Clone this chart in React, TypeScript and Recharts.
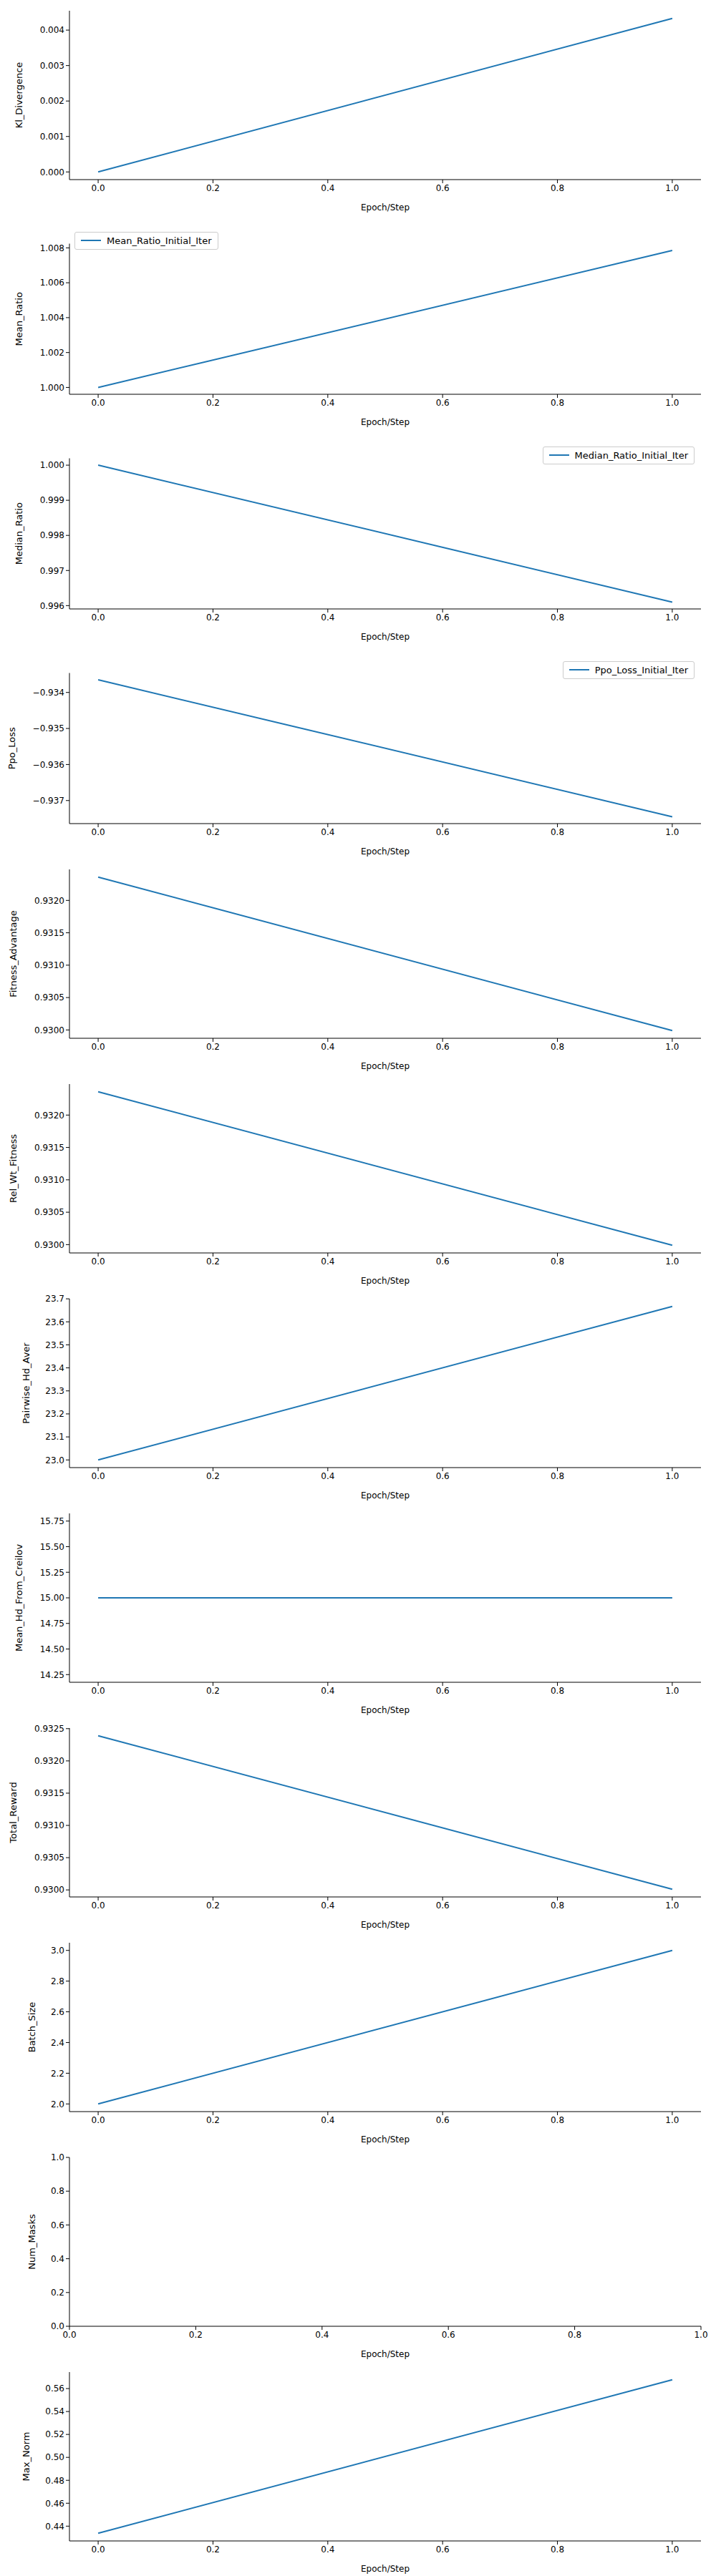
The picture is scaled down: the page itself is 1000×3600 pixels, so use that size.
import React from 'react'
import { LineChart, Line, XAxis, YAxis, Legend } from 'recharts'

const steps = [0, 1]

const klDivergence = [0.0, 0.00433]
const meanRatio = [1.0, 1.00785]
const medianRatio = [1.0, 0.9961]
const ppoLoss = [-0.93365, -0.93745]
const fitnessAdvantage = [0.93236, 0.92999]
const relWtFitness = [0.93236, 0.92999]
const pairwiseHdAver = [23.0, 23.667]
const meanHdFromCreilov = [15.0, 15.0]
const totalReward = [0.93239, 0.93001]
const batchSize = [2.0, 3.0]
const numMasks: number[] = []
const maxNorm = [0.4338, 0.5677]

const xTicks = [0, 0.2, 0.4, 0.6, 0.8, 1.0]

interface Panel {
    label: string
    values: number[]
    ticks: number[]
    digits: number
    labelX: number
    legend?: string
    legendSide?: 'left' | 'right'
    domain?: [number, number]
}

const panels: Panel[] = [
    { label: 'Kl_Divergence', values: klDivergence, ticks: [0, 0.001, 0.002, 0.003, 0.004], digits: 3, labelX: 32 },
    { label: 'Mean_Ratio', values: meanRatio, ticks: [1.0, 1.002, 1.004, 1.006, 1.008], digits: 3, labelX: 32, legend: 'Mean_Ratio_Initial_Iter', legendSide: 'left' },
    { label: 'Median_Ratio', values: medianRatio, ticks: [0.996, 0.997, 0.998, 0.999, 1.0], digits: 3, labelX: 32, legend: 'Median_Ratio_Initial_Iter', legendSide: 'right' },
    { label: 'Ppo_Loss', values: ppoLoss, ticks: [-0.937, -0.936, -0.935, -0.934], digits: 3, labelX: 22, legend: 'Ppo_Loss_Initial_Iter', legendSide: 'right' },
    { label: 'Fitness_Advantage', values: fitnessAdvantage, ticks: [0.93, 0.9305, 0.931, 0.9315, 0.932], digits: 4, labelX: 24 },
    { label: 'Rel_Wt_Fitness', values: relWtFitness, ticks: [0.93, 0.9305, 0.931, 0.9315, 0.932], digits: 4, labelX: 24 },
    { label: 'Pairwise_Hd_Aver', values: pairwiseHdAver, ticks: [23.0, 23.1, 23.2, 23.3, 23.4, 23.5, 23.6, 23.7], digits: 1, labelX: 42 },
    { label: 'Mean_Hd_From_Creilov', values: meanHdFromCreilov, ticks: [14.25, 14.5, 14.75, 15.0, 15.25, 15.5, 15.75], digits: 2, labelX: 32, domain: [14.175, 15.825] },
    { label: 'Total_Reward', values: totalReward, ticks: [0.93, 0.9305, 0.931, 0.9315, 0.932, 0.9325], digits: 4, labelX: 24 },
    { label: 'Batch_Size', values: batchSize, ticks: [2.0, 2.2, 2.4, 2.6, 2.8, 3.0], digits: 1, labelX: 50 },
    { label: 'Num_Masks', values: numMasks, ticks: [0, 0.2, 0.4, 0.6, 0.8, 1.0], digits: 1, labelX: 50, domain: [0, 1] },
    { label: 'Max_Norm', values: maxNorm, ticks: [0.44, 0.46, 0.48, 0.5, 0.52, 0.54, 0.56], digits: 2, labelX: 42 },
]

const FONT = '"DejaVu Sans", sans-serif'
const tickStyle = { fontSize: 12, fill: '#000', fontFamily: FONT }

const fmt = (d: number) => (v: number) => v.toFixed(d).replace('-', '\u2212')

function padDomain(values: number[]): [number, number] {
    const lo = Math.min(...values)
    const hi = Math.max(...values)
    const pad = (hi - lo) * 0.05
    return [lo - pad, hi + pad]
}

function LegendBox({ text }: { text: string }) {
    return (
        <div style={{
            display: 'inline-flex', alignItems: 'center', gap: 8, background: '#fff',
            border: '1px solid #ccc', borderRadius: 3, padding: '4px 8px', fontFamily: FONT, fontSize: 13,
        }}>
            <span style={{ display: 'inline-block', width: 28, height: 2, background: '#1f77b4' }} />
            {text}
        </div>
    )
}

function MetricPanel({ p }: { p: Panel }) {
    const data = steps.map((s, i) => ({ step: s, value: p.values[i] })).filter((d) => d.value !== undefined)
    const empty = p.values.length === 0
    const domain = p.domain ?? padDomain(p.values)
    return (
        <LineChart width={1000} height={300} data={empty ? [] : data}
            margin={{ top: 15, right: 21, bottom: 0, left: 0 }}>
            <XAxis dataKey="step" type="number" domain={empty ? [0, 1] : [-0.05, 1.05]} ticks={xTicks}
                tickFormatter={fmt(1)} tick={tickStyle} stroke="#000" tickSize={5} height={49}
                allowDataOverflow
                label={{ value: 'Epoch/Step', position: 'insideBottom', offset: 6, fontSize: 12, fill: '#000', fontFamily: FONT }} />
            <YAxis type="number" domain={domain} ticks={p.ticks} tickFormatter={fmt(p.digits)} tick={tickStyle}
                stroke="#000" tickSize={5} width={97} allowDataOverflow
                label={{ value: p.label, angle: -90, position: 'insideLeft', offset: p.labelX - 6, fontSize: 13, fill: '#000', fontFamily: FONT, style: { textAnchor: 'middle' } }} />
            {p.legend && (
                <Legend verticalAlign="top" align={p.legendSide}
                    wrapperStyle={{ top: 23, left: p.legendSide === 'left' ? 104 : undefined, right: p.legendSide === 'right' ? 30 : undefined, width: 'auto' }}
                    content={() => <LegendBox text={p.legend!} />} />
            )}
            {!empty && (
                <Line dataKey="value" stroke="#1f77b4" strokeWidth={2} dot={false} isAnimationActive={false} />
            )}
        </LineChart>
    )
}

export default function App() {
    return (
        <div style={{ position: 'absolute', top: 0, left: 0, width: 1000, background: '#fff' }}>
            {panels.map((p) => <MetricPanel key={p.label} p={p} />)}
        </div>
    )
}
